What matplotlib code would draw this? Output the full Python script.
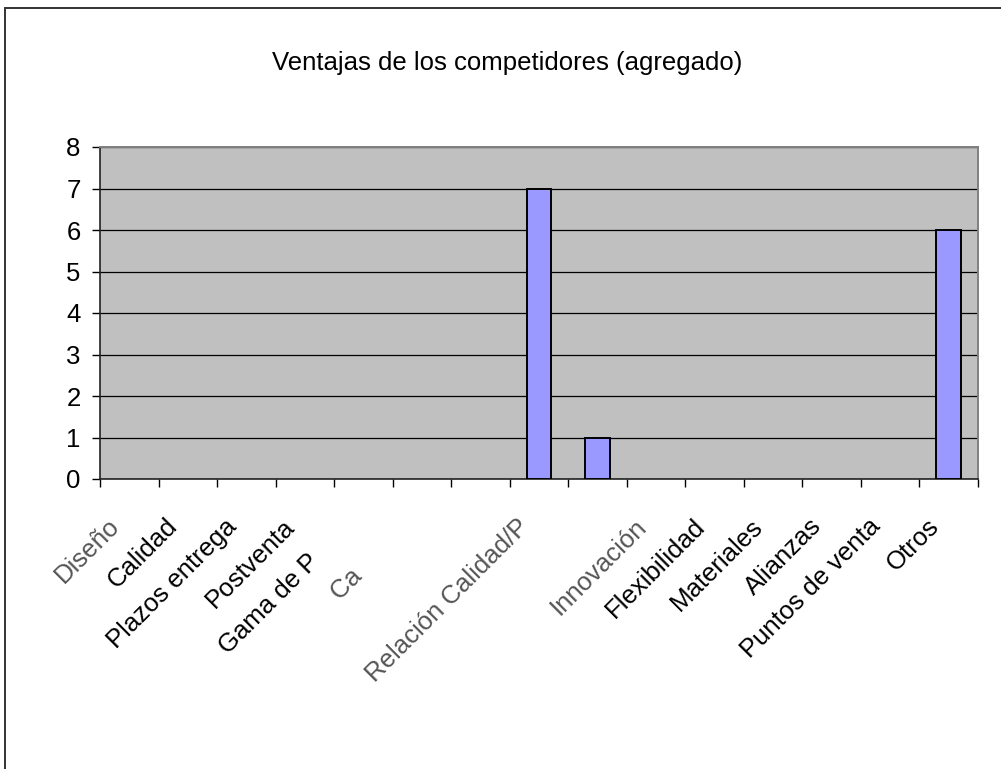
import numpy as np
import matplotlib
matplotlib.use('Agg')
import matplotlib.pyplot as plt
from matplotlib.patches import Rectangle

plt.rcParams['font.family'] = ['Liberation Sans', 'DejaVu Sans']

# data (labels partly cut off in the original)
categories = ['Diseño', 'Calidad', 'Plazos entrega', 'Postventa', 'Gama de P' + ' ' * 7,
              'Ca' + ' ' * 10, '', 'Relación Calidad/P', '', 'Innovación',
              'Flexibilidad', 'Materiales', 'Alianzas', 'Puntos de venta', 'Otros']
values = [0, 0, 0, 0, 0, 0, 0, 7, 1, 0, 0, 0, 0, 0, 6]
yticks = [0, 1, 2, 3, 4, 5, 6, 7, 8]
title = 'Ventajas de los competidores (agregado)'

W, H = 1001, 769
fs = 18.5
fig = plt.figure(figsize=(W / 100, H / 100), dpi=100)
fig.patch.set_facecolor('white')
# chart-area border (right/bottom edges fall outside the image)
fig.patches.append(Rectangle((5 / W, -0.1), 1.2, 1 - 8 / H + 0.1, transform=fig.transFigure,
                             fill=False, edgecolor='#333333', linewidth=1.4))

ax = fig.add_axes([100 / W, 1 - 479 / H, 878 / W, 332 / H])
ax.set_facecolor('#c0c0c0')

x = np.arange(len(categories))
edges = ['black' if v > 0 else 'none' for v in values]
ax.bar(x, values, width=0.42, color='#9999ff', edgecolor=edges, linewidth=1.4, zorder=3)

ax.set_xlim(-0.5, len(categories) - 0.5)
ax.set_ylim(0, 8)
ax.set_yticks(yticks)
ax.set_yticklabels([str(v) for v in yticks], fontsize=fs)
ax.yaxis.grid(True, color='black', linewidth=0.9, zorder=1)
ax.set_axisbelow(True)

# labels sit a little left of the category centre, like Excel's rotated labels
ax.set_xticks(x - 0.15)
ax.set_xticklabels(categories, rotation=45, ha='right', va='baseline',
                   rotation_mode='anchor', fontsize=fs)
ax.set_xticks(np.arange(-0.5, len(categories)), minor=True)
ax.tick_params(axis='x', which='major', length=0, pad=35)
ax.tick_params(axis='x', which='minor', length=6, width=1, color='black', direction='out')
ax.tick_params(axis='y', length=6, width=1, color='black', direction='out', pad=8)
for i in (0, 5, 7, 9):
    ax.get_xticklabels()[i].set_color('#555555')

for s in ('top', 'right'):
    ax.spines[s].set_color('#808080')
    ax.spines[s].set_linewidth(1.4)
for s in ('left', 'bottom'):
    ax.spines[s].set_color('#222222')
    ax.spines[s].set_linewidth(1.2)

fig.text(507 / W, 1 - 63 / H, title, ha='center', va='center', fontsize=fs)

fig.savefig('out.png', dpi=100)
